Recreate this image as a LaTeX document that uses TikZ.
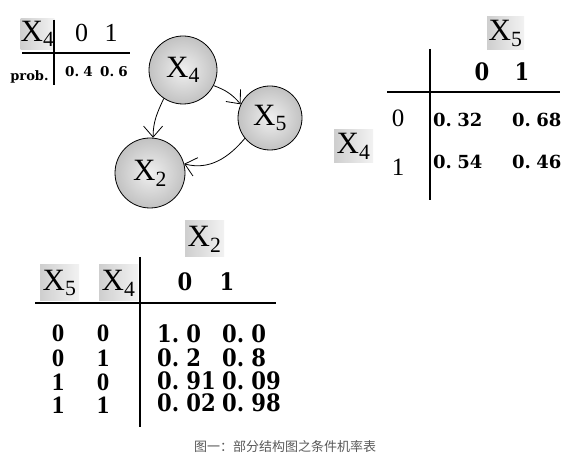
\documentclass[tikz,border=0pt]{standalone}
\usepackage{fontspec}
\setmainfont{Liberation Serif}
\newfontfamily\numfont{DejaVu Serif}
\newfontfamily\numfontc[FakeStretch=0.88]{DejaVu Serif}
\newfontfamily\cjk{Noto Sans CJK SC}
\usetikzlibrary{arrows.meta}
\newcommand\Xv[1]{X\textsubscript{#1}}
\newcommand\pd{.\hspace{0.3em}}
\begin{document}
\begin{tikzpicture}[x=1pt,y=1pt,
  ball/.style={circle,draw=black,line width=0.8pt,shading=radial,inner color=gray!12,outer color=gray!48,minimum size=#1,inner sep=0pt,font=\fontsize{31}{31}\selectfont},
  hdr/.style={left color=gray!38,right color=gray!10,inner sep=0pt,font=\fontsize{31}{31}\selectfont},
  rulel/.style={line width=2.4pt},
  arr/.style={-{Straight Barb[length=11pt,width=19pt,line width=0.8pt]},line width=0.8pt},
  hnum/.style={font=\fontsize{26}{26}\selectfont,inner sep=0pt},
  bnum/.style={font=\numfontc\bfseries\fontsize{24}{24}\selectfont,inner sep=0pt},
  rowlab/.style={font=\fontsize{25}{25}\selectfont,inner sep=0pt},
  browlab/.style={font=\bfseries\fontsize{25}{25}\selectfont,inner sep=0pt},
  rval/.style={font=\numfont\bfseries\fontsize{18}{18}\selectfont,inner sep=0pt,anchor=west},
  bval/.style={font=\numfontc\bfseries\fontsize{24}{24}\selectfont,inner sep=0pt,anchor=west},
  sval/.style={font=\numfont\bfseries\fontsize{13.5}{13.5}\selectfont,inner sep=0pt,anchor=west},
]
\useasboundingbox (0,0) rectangle (583,460);

% network
\node[ball=68pt] (c4) at (183,390) {\Xv{4}};
\node[ball=64pt] (c5) at (270,342) {\Xv{5}};
\node[ball=70pt] (c2) at (150,287) {\Xv{2}};
\draw[arr] (c4.236) to[out=245,in=90] (c2.85);
\draw[arr] (c4.-27) to[out=-20,in=130] (c5.155);
\draw[arr] (c5.219) to[out=230,in=-15] (c2.15);

% top-left table
\node[hdr,minimum width=31pt,minimum height=31pt] (tA) at (37.5,426) {\Xv{4}};
\node[hnum] (tA0) at (81.5,427.5) {0};
\node[hnum] (tA1) at (111,427.5) {1};
\coordinate (tAh1) at (22,407); \coordinate (tAh2) at (130,407);
\coordinate (tAv1) at (54,440); \coordinate (tAv2) at (54,375);
\draw[rulel] (tAh1) -- (tAh2);
\draw[line width=2pt] (tAv1) -- (tAv2);
\node[font=\numfont\bfseries\fontsize{13}{13}\selectfont,inner sep=0pt] (prob) at (29.5,383) {prob.};
\node[sval] (tAp0) at (65,388) {0\pd 4};
\node[sval] (tAp1) at (100,388) {0\pd 6};

% right table
\node[hdr,minimum width=37pt,minimum height=33pt] (tB) at (505.5,426.5) {\Xv{5}};
\node[bnum] (tB0) at (482,388) {0};
\node[bnum] (tB1) at (522,388) {1};
\coordinate (tBh1) at (387,368); \coordinate (tBh2) at (560,368);
\coordinate (tBv1) at (430,411); \coordinate (tBv2) at (430,260);
\draw[rulel] (tBh1) -- (tBh2);
\draw[line width=2pt] (tBv1) -- (tBv2);
\node[rowlab] (tBr0) at (398,342) {0};
\node[rowlab] (tBr1) at (398,293) {1};
\node[hdr,minimum width=39pt,minimum height=33pt] (tBx) at (353.5,313.5) {\Xv{4}};
\node[rval] (v11) at (433,340) {0\pd 32};
\node[rval] (v12) at (512,340) {0\pd 68};
\node[rval] (v21) at (433,298) {0\pd 54};
\node[rval] (v22) at (512,298) {0\pd 46};

% bottom table
\node[hdr,minimum width=39pt,minimum height=36pt] (tC) at (204.5,221) {\Xv{2}};
\node[hdr,minimum width=39pt,minimum height=36pt] (tC5) at (59.5,177) {\Xv{5}};
\node[hdr,minimum width=39pt,minimum height=36pt] (tC4) at (118.5,177) {\Xv{4}};
\node[bnum] (tC0) at (185,178) {0};
\node[bnum] (tC1) at (227,178) {1};
\coordinate (tCh1) at (35,157); \coordinate (tCh2) at (276,157);
\coordinate (tCv1) at (140,203); \coordinate (tCv2) at (140,33);
\draw[rulel] (tCh1) -- (tCh2);
\draw[line width=2pt] (tCv1) -- (tCv2);
\node[browlab] (ra1) at (58,127) {0}; \node[browlab] (rb1) at (103,127) {0};
\node[browlab] (ra2) at (58,102) {0}; \node[browlab] (rb2) at (103,102) {1};
\node[browlab] (ra3) at (58,78) {1};  \node[browlab] (rb3) at (103,78) {0};
\node[browlab] (ra4) at (58,55) {1};  \node[browlab] (rb4) at (103,55) {1};
\node[bval] (w11) at (157,126) {1\pd 0};  \node[bval] (w12) at (222,126) {0\pd 0};
\node[bval] (w21) at (157,102) {0\pd 2};  \node[bval] (w22) at (222,102) {0\pd 8};
\node[bval] (w31) at (157,79) {0\pd 91};  \node[bval] (w32) at (222,79) {0\pd 09};
\node[bval] (w41) at (157,57) {0\pd 02};  \node[bval] (w42) at (222,57) {0\pd 98};

% caption
\node[font=\cjk\fontsize{13}{13}\selectfont,text=black!65,inner sep=0pt] (cap) at (285,13) {图一：部分结构图之条件机率表};
\end{tikzpicture}
\end{document}
